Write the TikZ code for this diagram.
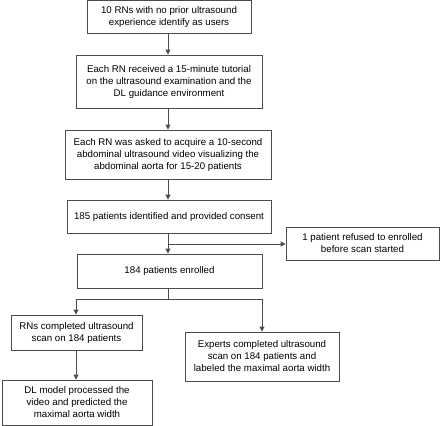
\documentclass[tikz,border=0pt]{standalone}
\usepackage{fontspec}
\setmainfont{Liberation Sans}
\usetikzlibrary{arrows.meta}
\begin{document}
\begin{tikzpicture}[x=1pt,y=-1pt,
  box/.style={draw=black!70,line width=0.9pt,align=center,font=\fontsize{9.7}{12}\selectfont,inner sep=0pt},
  conn/.style={draw=black!70,line width=0.9pt},
  arr/.style={conn,-{Triangle[width=5pt,length=5pt]}}]
\useasboundingbox (0,0) rectangle (440,426);
\node[box,minimum width=164,minimum height=33] (b1) at (169,16.5) {10 RNs with no prior ultrasound\\experience identify as users};
\node[box,minimum width=186,minimum height=53] (b2) at (169,81.5) {Each RN received a 15-minute tutorial\\on the ultrasound examination and the\\DL guidance environment};
\node[box,minimum width=206,minimum height=49] (b3) at (168,154.5) {Each RN was asked to acquire a 10-second\\abdominal ultrasound video visualizing the\\abdominal aorta for 15-20 patients};
\node[box,minimum width=204,minimum height=33] (b4) at (169,216.5) {185 patients identified and provided consent};
\node[box,minimum width=153,minimum height=33] (b6) at (362.5,243.5) {1 patient refused to enrolled\\before scan started};
\node[box,minimum width=185,minimum height=34] (b5) at (169.5,271) {184 patients enrolled};
\node[box,minimum width=131,minimum height=35] (b7) at (76.5,332.5) {RNs completed ultrasound\\scan on 184 patients};
\node[box,minimum width=154,minimum height=49] (b8) at (262,356.5) {Experts completed ultrasound\\scan on 184 patients and\\labeled the maximal aorta width};
\node[box,minimum width=150,minimum height=45] (b9) at (77,402.5) {DL model processed the\\video and predicted the\\maximal aorta width};
\draw[arr] (b1.south -| 168,0) -- (b2.north -| 168,0);
\draw[arr] (b2.south -| 168,0) -- (b3.north -| 168,0);
\draw[arr] (b3.south -| 168,0) -- (b4.north -| 168,0);
\draw[arr] (b4.south -| 168,0) -- (b5.north -| 168,0);
\coordinate (j1) at (168,244);
\draw[arr] (j1) -- (b6.west |- j1);
\coordinate (j2) at (168,299);
\draw[conn] (b5.south -| j2) -- (j2);
\draw[arr] (j2) -| (b7.north -| 76,0);
\draw[arr] (j2) -| (b8.north -| 262,0);
\draw[arr] (b7.south -| 76,0) -- (b9.north -| 76,0);
\end{tikzpicture}
\end{document}
